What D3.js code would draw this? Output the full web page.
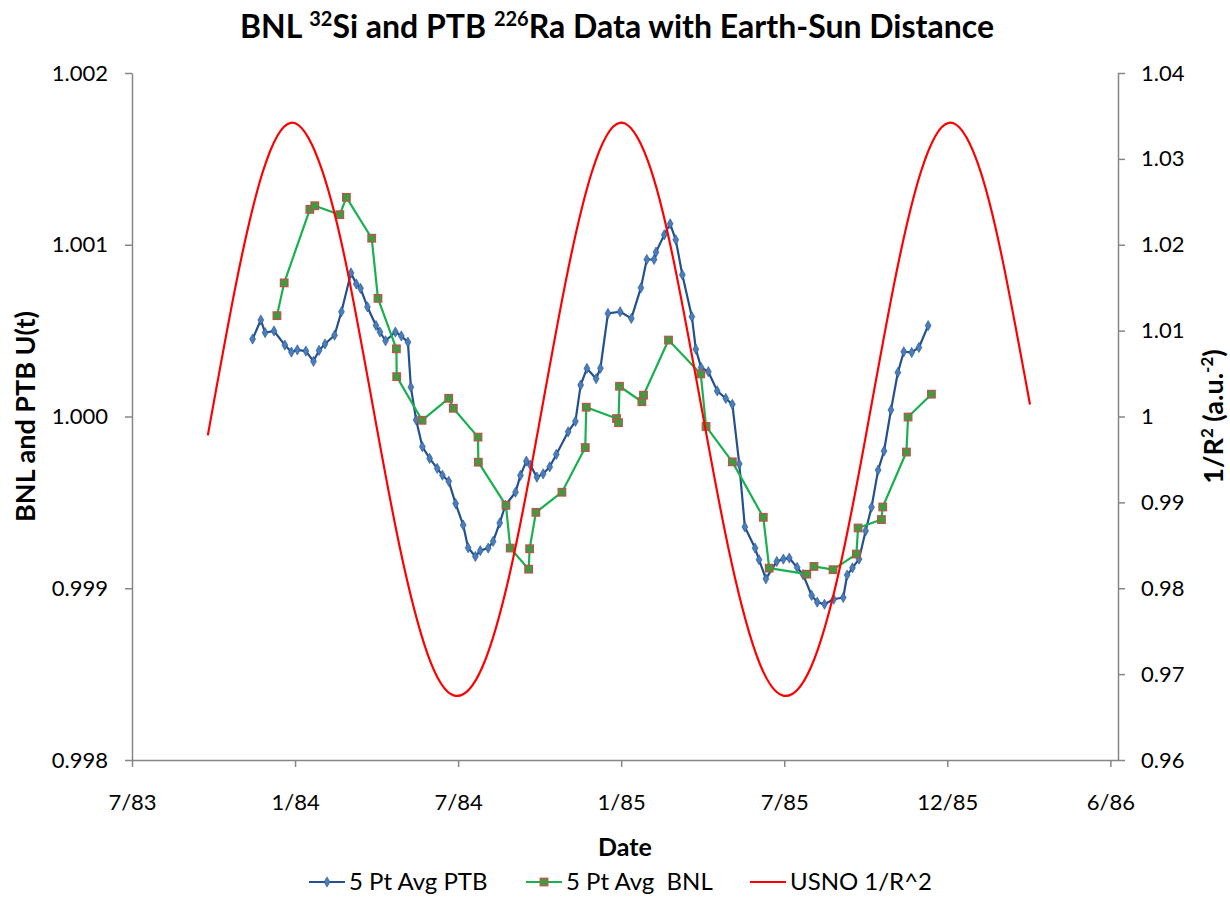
<!DOCTYPE html>
<html>
<head>
<meta charset="utf-8">
<script src="https://cdn.jsdelivr.net/npm/d3@7/dist/d3.min.js"></script>
<style>
  body { margin: 0; background: #ffffff; }
  svg { display: block; }
  text { font-family: Lato, "Open Sans", "DejaVu Sans", sans-serif; fill: #000; }
</style>
</head>
<body>
<svg id="chart" width="1230" height="921"></svg>
<script>
// ---------------- DATA ----------------
// x axis (decimal years); first tick 7/83, ticks every 181 days
const xAxisStart = 1983.5175;
const xAxisEnd = 1986.514;
const xTickStepDays = 181;
const xTickLabels = ["7/83", "1/84", "7/84", "1/85", "7/85", "12/85", "6/86"];

const leftTickValues = [0.998, 0.999, 1.000, 1.001, 1.002];
const leftTickLabels = ["0.998", "0.999", "1.000", "1.001", "1.002"];
const rightTickValues = [0.96, 0.97, 0.98, 0.99, 1.00, 1.01, 1.02, 1.03, 1.04];
const rightTickLabels = ["0.96", "0.97", "0.98", "0.99", "1", "1.01", "1.02", "1.03", "1.04"];

const seriesNames = ["5 Pt Avg PTB", "5 Pt Avg  BNL", "USNO 1/R^2"];

// 5 Pt Avg PTB (decimal year, U(t))
const ptbYears = [
  1983.884, 1983.909, 1983.922, 1983.949, 1983.982, 1984.002, 1984.020, 1984.046, 1984.069, 1984.086,
  1984.104, 1984.133, 1984.154, 1984.183, 1984.199, 1984.212, 1984.233, 1984.259, 1984.271, 1984.288,
  1984.318, 1984.336, 1984.356, 1984.365, 1984.381, 1984.400, 1984.422, 1984.445, 1984.461, 1984.480,
  1984.501, 1984.524, 1984.539, 1984.561, 1984.576, 1984.600, 1984.615, 1984.635, 1984.652, 1984.683,
  1984.698, 1984.716, 1984.728, 1984.748, 1984.767, 1984.787, 1984.807, 1984.843, 1984.865, 1984.881,
  1984.900, 1984.928, 1984.941, 1984.964, 1985.001, 1985.035, 1985.064, 1985.082, 1985.104, 1985.110,
  1985.135, 1985.153, 1985.170, 1985.190, 1985.219, 1985.231, 1985.247, 1985.269, 1985.296, 1985.322,
  1985.342, 1985.363, 1985.380, 1985.411, 1985.423, 1985.444, 1985.477, 1985.497, 1985.515, 1985.539,
  1985.557, 1985.583, 1985.600, 1985.622, 1985.650, 1985.679, 1985.691, 1985.707, 1985.727, 1985.747,
  1985.765, 1985.785, 1985.803, 1985.824, 1985.845, 1985.863, 1985.887, 1985.909, 1985.937
];
const ptbValues = [
  1.000451, 1.000562, 1.000488, 1.000498, 1.000416, 1.000375, 1.000388, 1.000381, 1.000321, 1.000385,
  1.000422, 1.000473, 1.000610, 1.000836, 1.000772, 1.000746, 1.000638, 1.000530, 1.000492, 1.000441,
  1.000492, 1.000469, 1.000433, 1.000171, 0.999980, 0.999824, 0.999756, 0.999698, 0.999658, 0.999623,
  0.999493, 0.999368, 0.999236, 0.999185, 0.999219, 0.999234, 0.999273, 0.999380, 0.999483, 0.999559,
  0.999657, 0.999740, 0.999717, 0.999647, 0.999666, 0.999707, 0.999779, 0.999911, 0.999972, 1.000183,
  1.000280, 1.000220, 1.000281, 1.000600, 1.000610, 1.000571, 1.000749, 1.000914, 1.000914, 1.000957,
  1.001058, 1.001122, 1.001029, 1.000825, 1.000581, 1.000392, 1.000285, 1.000261, 1.000149, 1.000105,
  1.000071, 0.999724, 0.999357, 0.999234, 0.999166, 0.999055, 0.999156, 0.999170, 0.999176, 0.999121,
  0.999079, 0.998958, 0.998919, 0.998907, 0.998936, 0.998946, 0.999077, 0.999119, 0.999170, 0.999334,
  0.999472, 0.999688, 0.999799, 1.000038, 1.000256, 1.000377, 1.000373, 1.000402, 1.000529
];

// 5 Pt Avg BNL (decimal year, U(t))
const bnlYears = [
  1983.958, 1983.980, 1984.058, 1984.073, 1984.149, 1984.169, 1984.246, 1984.265, 1984.321, 1984.322,
  1984.399, 1984.480, 1984.494, 1984.569, 1984.570, 1984.654, 1984.667, 1984.723, 1984.726, 1984.745,
  1984.824, 1984.895, 1984.898, 1984.990, 1984.996, 1984.999, 1985.067, 1985.072, 1985.148, 1985.246,
  1985.262, 1985.342, 1985.436, 1985.454, 1985.568, 1985.590, 1985.648, 1985.719, 1985.724, 1985.795,
  1985.799, 1985.871, 1985.876, 1985.947
];
const bnlValues = [
  1.000587, 1.000778, 1.001206, 1.001227, 1.001175, 1.001276, 1.001038, 1.000688, 1.000394, 1.000232,
  0.999978, 1.000106, 1.000048, 0.999880, 0.999734, 0.999483, 0.999234, 0.999111, 0.999230, 0.999442,
  0.999559, 0.999819, 1.000054, 0.999988, 0.999964, 1.000176, 1.000086, 1.000124, 1.000445, 1.000248,
  0.999942, 0.999736, 0.999413, 0.999117, 0.999082, 0.999127, 0.999108, 0.999199, 0.999351, 0.999400,
  0.999473, 0.999793, 0.999997, 1.000130
];

// USNO 1/R^2 (a.u.^-2), first of each month
const usnoDates = [
  "1983-10-01", "1983-11-01", "1983-12-01",
  "1984-01-01", "1984-02-01", "1984-03-01", "1984-04-01", "1984-05-01", "1984-06-01",
  "1984-07-01", "1984-08-01", "1984-09-01", "1984-10-01", "1984-11-01", "1984-12-01",
  "1985-01-01", "1985-02-01", "1985-03-01", "1985-04-01", "1985-05-01", "1985-06-01",
  "1985-07-01", "1985-08-01", "1985-09-01", "1985-10-01", "1985-11-01", "1985-12-01",
  "1986-01-01", "1986-02-01", "1986-03-01", "1986-04-01"
];
const usnoValues = [
  0.9978, 1.0153, 1.0285,
  1.0342, 1.0298, 1.0185, 1.0014, 0.9849, 0.9724,
  0.9675, 0.9708, 0.9819, 0.9978, 1.0153, 1.0285,
  1.0342, 1.0298, 1.0185, 1.0014, 0.9849, 0.9724,
  0.9675, 0.9708, 0.9819, 0.9978, 1.0153, 1.0285,
  1.0342, 1.0298, 1.0185, 1.0014
];

// ---------------- HELPERS ----------------
function decimalYear(str) {
  const d = d3.utcParse("%Y-%m-%d")(str);
  const y = d.getUTCFullYear();
  const s = Date.UTC(y, 0, 1), e = Date.UTC(y + 1, 0, 1);
  return y + (d - s) / (e - s);
}

// ---------------- LAYOUT ----------------
const svg = d3.select("#chart");
const plot = { left: 132, right: 1118, top: 73, bottom: 760 };
const axisColor = "#868686";

const x = d3.scaleLinear().domain([xAxisStart, xAxisEnd]).range([plot.left, plot.right]);
const yL = d3.scaleLinear().domain([0.998, 1.002]).range([plot.bottom, plot.top]);
const yR = d3.scaleLinear().domain([0.96, 1.04]).range([plot.bottom, plot.top]);

const xTickValues = xTickLabels.map((_, i) => xAxisStart + i * xTickStepDays / 365.25);

// ---------------- AXES ----------------
const gx = svg.append("g").attr("transform", `translate(0,${plot.bottom})`)
  .call(d3.axisBottom(x).tickValues(xTickValues).tickFormat((d, i) => xTickLabels[i])
    .tickSizeInner(7).tickSizeOuter(0).tickPadding(27));
const gl = svg.append("g").attr("transform", `translate(${plot.left},0)`)
  .call(d3.axisLeft(yL).tickValues(leftTickValues).tickFormat((d, i) => leftTickLabels[i])
    .tickSizeInner(7).tickSizeOuter(0).tickPadding(17));
const gr = svg.append("g").attr("transform", `translate(${plot.right},0)`)
  .call(d3.axisRight(yR).tickValues(rightTickValues).tickFormat((d, i) => rightTickLabels[i])
    .tickSizeInner(7).tickSizeOuter(0).tickPadding(16));

[gx, gl, gr].forEach(g => {
  g.select(".domain").attr("stroke", axisColor).attr("stroke-width", 1.5);
  g.selectAll(".tick line").attr("stroke", axisColor).attr("stroke-width", 1.5);
  g.selectAll(".tick text").attr("font-size", 22).attr("font-family", "Lato, 'Open Sans', sans-serif").attr("fill", "#000");
});

// ---------------- SERIES ----------------
const ptb = ptbYears.map((t, i) => ({ t, v: ptbValues[i] }));
const bnl = bnlYears.map((t, i) => ({ t, v: bnlValues[i] }));
const usno = usnoDates.map((s, i) => ({ t: decimalYear(s), v: usnoValues[i] }));

const lineL = d3.line().x(d => x(d.t)).y(d => yL(d.v));
const lineR = d3.line().x(d => x(d.t)).y(d => yR(d.v)).curve(d3.curveNatural);

const colors = { ptbLine: "#23508e", ptbMark: "#4a7ebb", bnlLine: "#19b04f", bnlFill: "#3e9b3e", bnlStroke: "#c0504d", usno: "#ff0000" };

svg.append("path").datum(ptb).attr("d", lineL)
  .attr("fill", "none").attr("stroke", colors.ptbLine).attr("stroke-width", 2.2).attr("stroke-linejoin", "round");
svg.append("g").selectAll("path").data(ptb).join("path")
  .attr("d", d3.symbol(d3.symbolDiamond, 30))
  .attr("transform", d => `translate(${x(d.t)},${yL(d.v)})`)
  .attr("fill", colors.ptbMark).attr("stroke", colors.ptbLine).attr("stroke-width", 0.6);

svg.append("path").datum(bnl).attr("d", lineL)
  .attr("fill", "none").attr("stroke", colors.bnlLine).attr("stroke-width", 2.2).attr("stroke-linejoin", "round");
svg.append("g").selectAll("rect").data(bnl).join("rect")
  .attr("x", d => x(d.t) - 3.8).attr("y", d => yL(d.v) - 3.8)
  .attr("width", 7.6).attr("height", 7.6)
  .attr("fill", colors.bnlFill).attr("stroke", colors.bnlStroke).attr("stroke-width", 1.2);

svg.append("path").datum(usno).attr("d", lineR)
  .attr("fill", "none").attr("stroke", colors.usno).attr("stroke-width", 2.2);

// ---------------- TITLES ----------------
const title = svg.append("text").attr("x", 617).attr("y", 38).attr("text-anchor", "middle")
  .attr("font-size", 32).attr("font-weight", "bold");
title.append("tspan").text("BNL ");
title.append("tspan").attr("font-size", 20).attr("dy", -12).text("32");
title.append("tspan").attr("dy", 12).text("Si and PTB ");
title.append("tspan").attr("font-size", 20).attr("dy", -12).text("226");
title.append("tspan").attr("dy", 12).text("Ra Data with Earth-Sun Distance");

svg.append("text").attr("x", 625).attr("y", 856).attr("text-anchor", "middle")
  .attr("font-size", 25).attr("font-weight", "bold").text("Date");

svg.append("text").attr("transform", `translate(35,${(plot.top + plot.bottom) / 2}) rotate(-90)`)
  .attr("text-anchor", "middle").attr("font-size", 27).attr("font-weight", "bold")
  .text("BNL and PTB U(t)");

const rt = svg.append("text").attr("transform", `translate(1223,${(plot.top + plot.bottom) / 2}) rotate(-90)`)
  .attr("text-anchor", "middle").attr("font-size", 27).attr("font-weight", "bold");
rt.append("tspan").text("1/R");
rt.append("tspan").attr("font-size", 17).attr("dy", -10).text("2");
rt.append("tspan").attr("dy", 10).text(" (a.u.");
rt.append("tspan").attr("font-size", 17).attr("dy", -10).text("-2");
rt.append("tspan").attr("dy", 10).text(")");

// ---------------- LEGEND ----------------
const legendY = 882;
const legendItems = [
  { name: seriesNames[0], x0: 309, color: colors.ptbLine, mark: "diamond" },
  { name: seriesNames[1], x0: 526, color: colors.bnlLine, mark: "square" },
  { name: seriesNames[2], x0: 750, color: colors.usno, mark: null }
];
const lg = svg.append("g");
legendItems.forEach(it => {
  lg.append("line").attr("x1", it.x0).attr("x2", it.x0 + 36).attr("y1", legendY).attr("y2", legendY)
    .attr("stroke", it.color).attr("stroke-width", 2.2);
  if (it.mark === "diamond") {
    lg.append("path").attr("d", d3.symbol(d3.symbolDiamond, 30))
      .attr("transform", `translate(${it.x0 + 18},${legendY})`)
      .attr("fill", colors.ptbMark).attr("stroke", colors.ptbLine).attr("stroke-width", 0.6);
  } else if (it.mark === "square") {
    lg.append("rect").attr("x", it.x0 + 18 - 3.8).attr("y", legendY - 3.8).attr("width", 7.6).attr("height", 7.6)
      .attr("fill", colors.bnlFill).attr("stroke", colors.bnlStroke).attr("stroke-width", 1.2);
  }
  lg.append("text").attr("x", it.x0 + 40).attr("y", legendY + 8).attr("font-size", 24)
    .style("white-space", "pre").text(it.name);
});
</script>
</body>
</html>
